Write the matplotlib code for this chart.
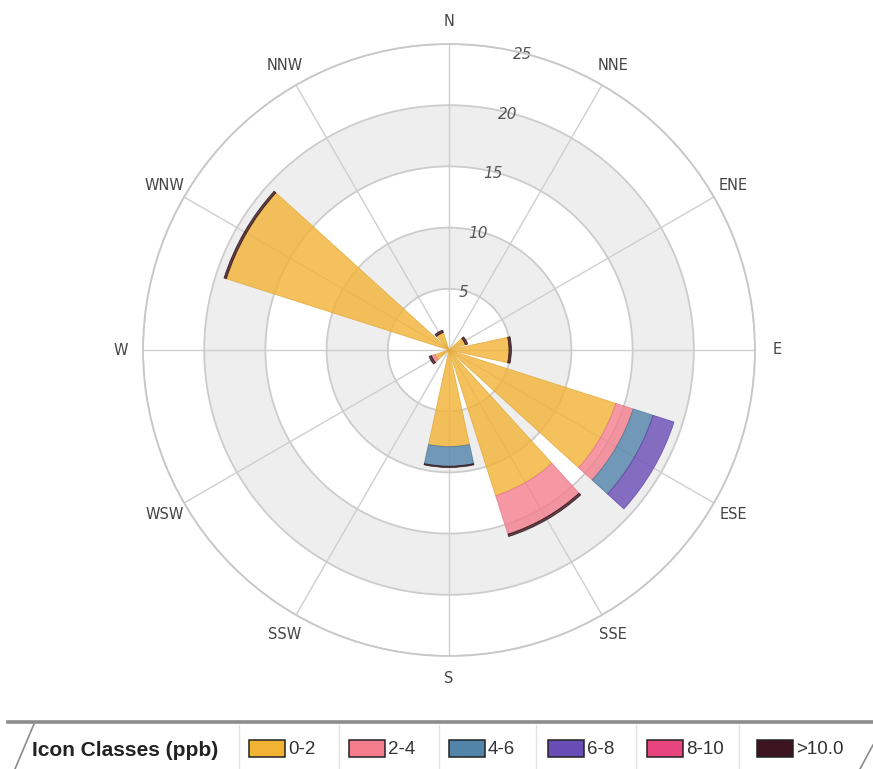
import numpy as np
import matplotlib
matplotlib.use("Agg")
import matplotlib.pyplot as plt
from matplotlib.patches import Rectangle, Polygon
from matplotlib.lines import Line2D

# data, one bar every 30 degrees
bar_dirs = [0, 30, 60, 90, 120, 150, 180, 210, 240, 270, 300, 330]
dir_labels = ["N", "NNE", "ENE", "E", "ESE", "SSE", "S", "SSW",
              "WSW", "W", "WNW", "NNW"]
c_0_2 = [0, 0, 1.4, 4.9, 14.3, 12.5, 7.9, 0, 1.2, 0, 19.1, 1.5]
c_2_4 = [0, 0, 0, 0, 1.5, 3.3, 0, 0, 0.3, 0, 0, 0]
c_4_6 = [0, 0, 0, 0, 1.7, 0, 1.6, 0, 0, 0, 0, 0]
c_6_8 = [0, 0, 0, 0, 1.8, 0, 0, 0, 0, 0, 0, 0]
c_8_10 = [0, 0, 0, 0, 0, 0, 0, 0, 0, 0, 0, 0]
c_gt10 = [0, 0, 0.2, 0.2, 0, 0.2, 0.1, 0, 0.2, 0, 0.2, 0.2]

classes = ["0-2", "2-4", "4-6", "6-8", "8-10", ">10.0"]
colors = ["#f2b234", "#f47e8c", "#5283a8", "#6a4cb6", "#e8447e", "#3c1520"]
edges = ["#e0a838", "#e07888", "#4a7898", "#5c44a4", "#c02a60", "#2a0c14"]
r_ticks = [5, 10, 15, 20, 25]

W, H = 873, 769
fig = plt.figure(figsize=(W / 100, H / 100), dpi=100, facecolor="white")

cx, cy, rad = 449, 350, 306
ax = fig.add_axes([(cx - rad) / W, (H - cy - rad) / H, 2 * rad / W, 2 * rad / H],
                  projection="polar")
ax.set_theta_zero_location("N")
ax.set_theta_direction(-1)
ax.set_ylim(0, 25)
ax.set_axisbelow(True)

# shaded bands
full = np.linspace(0, 2 * np.pi, 400)
for lo, hi in [(5, 10), (15, 20)]:
    ax.fill_between(full, lo, hi, color="#eeeeee", lw=0, zorder=0.2)

ax.set_xticks(np.deg2rad(bar_dirs))
ax.set_xticklabels(dir_labels)
ax.xaxis.grid(True, color="#cfcfcf", lw=1)
ax.tick_params(axis="x", direction="out", length=5, color="#9a9a9a",
               pad=4, labelsize=10.5, labelcolor="#444444")
ax.set_yticks(r_ticks)
ax.set_yticklabels([])
ax.yaxis.grid(True, color="#cccccc", lw=1.3)
ax.spines["polar"].set_color("#c8c8c8")
ax.spines["polar"].set_linewidth(1.3)

# radial value labels sitting on the rings
for v in r_ticks:
    ax.text(np.deg2rad(14), v - 0.15, str(v), fontstyle="italic", fontsize=11,
            color="#555555", ha="center", va="center", zorder=1)

theta = np.deg2rad(bar_dirs)
width = np.deg2rad(24.5)
bottom = np.zeros(len(bar_dirs))
for vals, col, ec in zip([c_0_2, c_2_4, c_4_6, c_6_8, c_8_10, c_gt10], colors, edges):
    vals = np.array(vals)
    mask = vals > 0
    ax.bar(theta[mask], vals[mask], width=width, bottom=bottom[mask], color=col,
           alpha=0.8, edgecolor=ec, linewidth=0.6, zorder=2)
    bottom = bottom + vals

# legend strip
def fx(x):
    return x / W


def fy(y):
    return 1 - y / H


fig.add_artist(Polygon([[fx(15), fy(769)], [fx(33), fy(724)], [fx(873), fy(724)],
                        [fx(873), fy(769)]], closed=True, facecolor="white",
                       edgecolor="none", transform=fig.transFigure))
fig.add_artist(Line2D([fx(8), fx(873)], [fy(722), fy(722)], color="#8c8c8c", lw=2.6,
                      transform=fig.transFigure))
fig.add_artist(Line2D([fx(15), fx(34)], [fy(769), fy(724)], color="#8c8c8c", lw=1.2,
                      transform=fig.transFigure))
fig.add_artist(Line2D([fx(860), fx(873)], [fy(769), fy(745)], color="#8c8c8c", lw=1.2,
                      transform=fig.transFigure))
for sx in [239, 339, 439, 536, 636, 739]:
    fig.add_artist(Line2D([fx(sx), fx(sx)], [fy(725), fy(769)], color="#e2e2e2", lw=1,
                          transform=fig.transFigure))

narrow = ["Liberation Sans Narrow", "Liberation Sans", "DejaVu Sans"]
fig.text(fx(32), fy(750), "Icon Classes (ppb)", family=narrow, fontweight="bold",
         fontsize=15, color="#222222", ha="left", va="center")
sw_x = [249, 349, 449, 548, 647, 757]
for x0, lab, col in zip(sw_x, classes, colors):
    fig.add_artist(Rectangle((fx(x0), fy(757)), fx(36), 17 / H, facecolor=col,
                             edgecolor="#222222", lw=1.1, transform=fig.transFigure))
    fig.text(fx(x0 + 39), fy(750), lab, family=narrow, fontsize=13.5, color="#333333",
             ha="left", va="center")

fig.savefig("out.png", dpi=100, facecolor="white")
